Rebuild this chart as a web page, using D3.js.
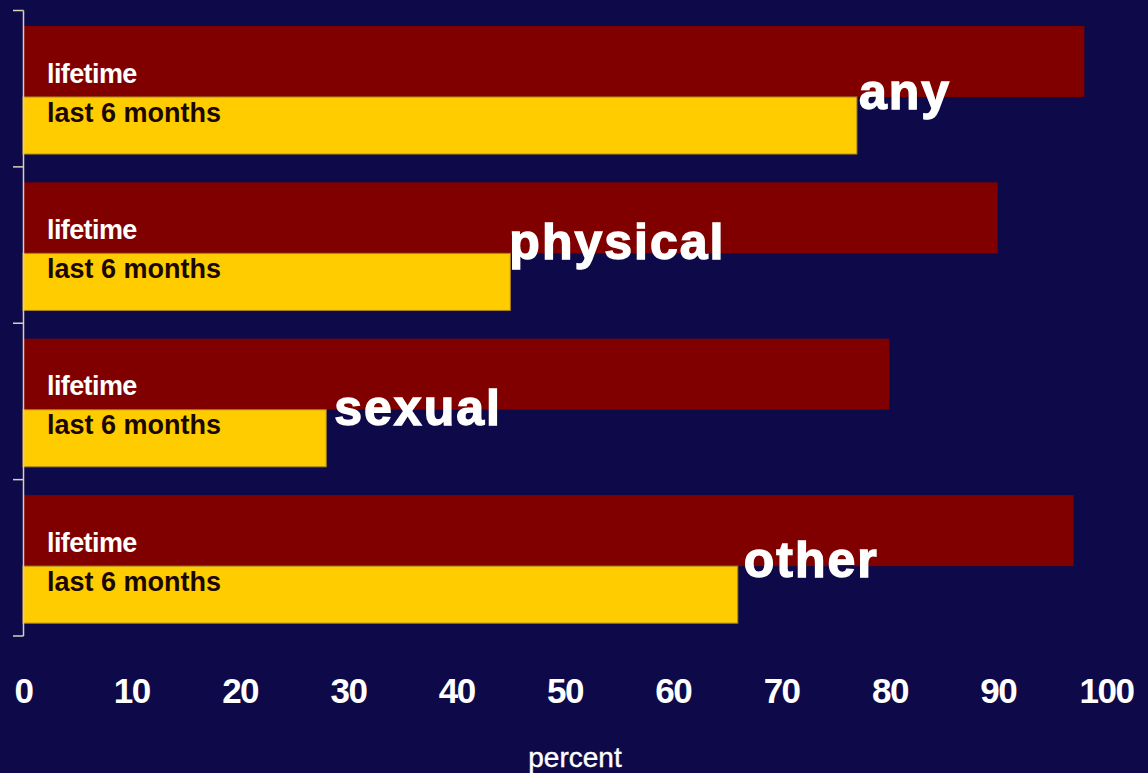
<!DOCTYPE html>
<html>
<head>
<meta charset="utf-8">
<script src="https://cdn.jsdelivr.net/npm/d3@7"></script>
<style>
  html, body { margin: 0; padding: 0; background: #0e0a4a; }
  svg { display: block; }
</style>
</head>
<body>
<svg id="chart" width="1148" height="773"></svg>
<script>
// ---- data ----
const categories = ["any", "physical", "sexual", "other"];
const lifetime = [98, 90, 80, 97];
const last6Months = [77, 45, 28, 66];
const seriesLabels = ["lifetime", "last 6 months"];
const xTicks = [0, 10, 20, 30, 40, 50, 60, 70, 80, 90, 100];
const xTitle = "percent";

// ---- layout (not data) ----
const W = 1148, H = 773;
const labelNudge = [[2, 12], [-1, 6], [8, 15], [6, 11]]; // [dx, dy] of category labels

const svg = d3.select("#chart");
svg.append("rect").attr("width", W).attr("height", H).attr("fill", "#0e0a4a");

const x = d3.scaleLinear().domain([0, 100]).range([23, 1106]);
const y = d3.scaleBand().domain(categories).range([10.5, 636]).paddingInner(0).paddingOuter(0);
const bw = y.bandwidth();
const inner = d3.scaleLinear().domain([0, 1]).range([0, bw]);

const rows = categories.map((c, i) => ({ c, i, life: lifetime[i], recent: last6Months[i] }));

// lifetime bars
svg.append("g").selectAll("rect").data(rows).join("rect")
  .attr("x", x(0))
  .attr("y", d => y(d.c) + inner(0.099))
  .attr("width", d => x(d.life) - x(0))
  .attr("height", inner(0.553) - inner(0.099))
  .attr("fill", "#800000");

// last 6 months bars
svg.append("g").selectAll("rect").data(rows).join("rect")
  .attr("x", x(0))
  .attr("y", d => y(d.c) + inner(0.553))
  .attr("width", d => x(d.recent) - x(0))
  .attr("height", inner(0.918) - inner(0.553))
  .attr("fill", "#ffcc00")
  .attr("stroke", "#a88420")
  .attr("stroke-width", 1);

// series labels inside bars
const lab = svg.append("g").attr("font-family", "'Liberation Sans', Arial, sans-serif")
  .attr("font-weight", "bold").attr("font-size", 27);
lab.selectAll("text.life").data(rows).join("text")
  .attr("class", "life")
  .attr("x", 47)
  .attr("y", d => y(d.c) + 72)
  .attr("fill", "#ffffff")
  .attr("letter-spacing", -0.6)
  .text(seriesLabels[0]);
lab.selectAll("text.recent").data(rows).join("text")
  .attr("class", "recent")
  .attr("x", 47)
  .attr("y", d => y(d.c) + 111)
  .attr("fill", "#1a0800")
  .text(seriesLabels[1]);

// category labels at end of yellow bars
svg.append("g").selectAll("text").data(rows).join("text")
  .attr("x", d => x(d.recent) + labelNudge[d.i][0])
  .attr("y", d => y(d.c) + inner(0.553) + labelNudge[d.i][1])
  .attr("font-family", "'Liberation Sans', Arial, sans-serif")
  .attr("font-weight", "bold")
  .attr("font-size", 50)
  .attr("letter-spacing", 2)
  .attr("fill", "#ffffff")
  .attr("stroke", "#ffffff")
  .attr("stroke-width", 1.4)
  .text(d => d.c);

// y axis (ticks at band boundaries)
const yAxisG = svg.append("g");
yAxisG.append("line")
  .attr("x1", 23.5).attr("x2", 23.5)
  .attr("y1", y.range()[0]).attr("y2", y.range()[1])
  .attr("stroke", "#d8d0b8").attr("stroke-width", 1.5);
const boundaries = categories.map(c => y(c)).concat([y.range()[1]]);
yAxisG.selectAll("line.tick").data(boundaries).join("line")
  .attr("class", "tick")
  .attr("x1", 13).attr("x2", 23.5)
  .attr("y1", d => d).attr("y2", d => d)
  .attr("stroke", "#d8d0b8").attr("stroke-width", 1.5);

// x axis labels (no line)
const xAxis = d3.axisBottom(x).tickValues(xTicks).tickSize(0).tickPadding(0).tickFormat(d3.format("d"));
const xg = svg.append("g").attr("transform", "translate(0,678)").call(xAxis);
xg.select(".domain").remove();
xg.selectAll("text")
  .attr("dy", "0.71em")
  .attr("y", 0)
  .attr("fill", "#ffffff")
  .attr("font-family", "'Liberation Sans', Arial, sans-serif")
  .attr("font-weight", "bold")
  .attr("font-size", 35)
  .attr("letter-spacing", -1.5);

// x title
svg.append("text")
  .attr("x", 575).attr("y", 767)
  .attr("text-anchor", "middle")
  .attr("fill", "#ffffff")
  .attr("font-family", "'Liberation Sans', Arial, sans-serif")
  .attr("font-size", 28)
  .attr("stroke", "#ffffff")
  .attr("stroke-width", 0.4)
  .text(xTitle);
</script>
</body>
</html>
